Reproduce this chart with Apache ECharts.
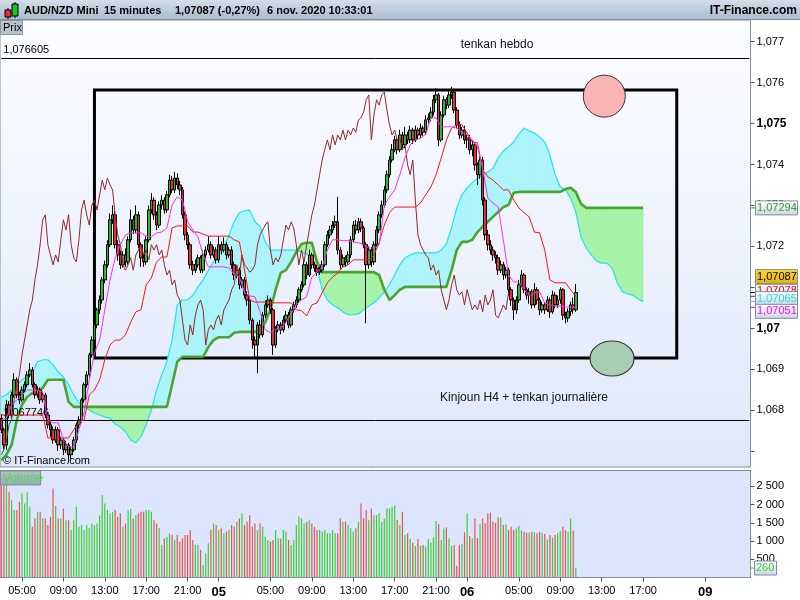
<!DOCTYPE html>
<html><head><meta charset="utf-8">
<script src="https://cdn.jsdelivr.net/npm/echarts@6/dist/echarts.min.js"></script>
<style>html,body{margin:0;padding:0;background:#fff;}#c{width:800px;height:600px;}</style>
</head><body><div id="c"></div>
<script>
// ---------- time axis ----------
const sessions = [
  {start: [2020, 11, 4, 3, 0], count: 272},
  {start: [2020, 11, 9, 0, 0], count: 18}
];
const tickTimes = ['11-04 05:00','11-04 09:00','11-04 13:00','11-04 17:00','11-04 21:00','11-05 00:00','11-05 05:00','11-05 09:00','11-05 13:00','11-05 17:00','11-05 21:00','11-06 00:00','11-06 05:00','11-06 09:00','11-06 13:00','11-06 17:00','11-09 00:00'];
const tickLabels = ['05:00','09:00','13:00','17:00','21:00','05','05:00','09:00','13:00','17:00','21:00','06','05:00','09:00','13:00','17:00','09'];

// ---------- 15-min candles [open, close, low, high] ----------
const candles = [
[1.06780,1.06752,1.06744,1.06790],[1.06752,1.06715,1.06705,1.06757],[1.06715,1.06813,1.06703,1.06825],[1.06813,1.06788,1.06780,1.06822],[1.06788,1.06837,1.06782,1.06845],
[1.06837,1.06874,1.06830,1.06890],[1.06874,1.06837,1.06829,1.06880],[1.06837,1.06825,1.06815,1.06845],[1.06825,1.06849,1.06820,1.06858],[1.06849,1.06862,1.06842,1.06870],
[1.06862,1.06886,1.06855,1.06895],[1.06886,1.06898,1.06880,1.06915],[1.06898,1.06862,1.06855,1.06905],[1.06862,1.06837,1.06828,1.06868],[1.06837,1.06849,1.06830,1.06858],
[1.06849,1.06825,1.06815,1.06855],[1.06825,1.06837,1.06818,1.06845],[1.06837,1.06788,1.06780,1.06842],[1.06788,1.06764,1.06755,1.06795],[1.06764,1.06752,1.06735,1.06770],
[1.06752,1.06727,1.06718,1.06760],[1.06727,1.06752,1.06720,1.06760],[1.06752,1.06715,1.06700,1.06758],[1.06715,1.06727,1.06705,1.06735],[1.06727,1.06703,1.06690,1.06732],
[1.06703,1.06715,1.06695,1.06725],[1.06715,1.06691,1.06672,1.06720],[1.06691,1.06703,1.06680,1.06710],[1.06703,1.06727,1.06698,1.06735],[1.06727,1.06764,1.06720,1.06770],
[1.06764,1.06776,1.06755,1.06785],[1.06776,1.06825,1.06770,1.06830],[1.06825,1.06862,1.06818,1.06868],[1.06862,1.06886,1.06855,1.06895],[1.06886,1.06935,1.06880,1.06940],
[1.06935,1.06971,1.06928,1.06980],[1.06971,1.07008,1.06965,1.07015],[1.07008,1.07045,1.07000,1.07050],[1.07045,1.07069,1.07035,1.07080],[1.07069,1.07118,1.07060,1.07125],
[1.07118,1.07155,1.07110,1.07165],[1.07155,1.07204,1.07148,1.07215],[1.07204,1.07265,1.07198,1.07280],[1.07265,1.07277,1.07255,1.07300],[1.07277,1.07204,1.07195,1.07285],
[1.07204,1.07179,1.07165,1.07215],[1.07179,1.07155,1.07145,1.07190],[1.07155,1.07179,1.07148,1.07188],[1.07179,1.07162,1.07150,1.07195],[1.07162,1.07216,1.07155,1.07225],
[1.07216,1.07265,1.07210,1.07290],[1.07265,1.07240,1.07230,1.07275],[1.07240,1.07277,1.07232,1.07300],[1.07277,1.07204,1.07195,1.07285],[1.07204,1.07172,1.07150,1.07210],
[1.07172,1.07162,1.07150,1.07180],[1.07162,1.07216,1.07155,1.07225],[1.07216,1.07289,1.07210,1.07300],[1.07289,1.07313,1.07280,1.07330],[1.07313,1.07277,1.07265,1.07320],
[1.07277,1.07252,1.07240,1.07285],[1.07252,1.07301,1.07245,1.07310],[1.07301,1.07313,1.07290,1.07325],[1.07313,1.07289,1.07280,1.07320],[1.07289,1.07326,1.07282,1.07335],
[1.07326,1.07362,1.07320,1.07375],[1.07362,1.07338,1.07330,1.07372],[1.07338,1.07367,1.07330,1.07382],[1.07367,1.07350,1.07340,1.07378],[1.07350,1.07338,1.07325,1.07360],
[1.07338,1.07277,1.07268,1.07345],[1.07277,1.07228,1.07215,1.07285],[1.07228,1.07204,1.07192,1.07235],[1.07204,1.07155,1.07145,1.07210],[1.07155,1.07142,1.07130,1.07165],
[1.07142,1.07155,1.07135,1.07168],[1.07155,1.07172,1.07148,1.07180],[1.07172,1.07142,1.07135,1.07178],[1.07142,1.07179,1.07135,1.07190],[1.07179,1.07191,1.07170,1.07200],
[1.07191,1.07204,1.07185,1.07225],[1.07204,1.07179,1.07170,1.07212],[1.07179,1.07191,1.07172,1.07200],[1.07191,1.07167,1.07158,1.07198],[1.07167,1.07204,1.07160,1.07225],
[1.07204,1.07191,1.07180,1.07212],[1.07191,1.07204,1.07185,1.07222],[1.07204,1.07179,1.07168,1.07210],[1.07179,1.07191,1.07172,1.07198],[1.07191,1.07155,1.07145,1.07200],
[1.07155,1.07130,1.07118,1.07162],[1.07130,1.07142,1.07122,1.07150],[1.07142,1.07106,1.07095,1.07148],[1.07106,1.07118,1.07098,1.07125],[1.07118,1.07081,1.07072,1.07125],
[1.07081,1.07069,1.07055,1.07090],[1.07069,1.07020,1.07010,1.07075],[1.07020,1.06971,1.06950,1.07025],[1.06971,1.06959,1.06930,1.06980],[1.06959,1.07008,1.06890,1.07015],
[1.07008,1.06984,1.06975,1.07020],[1.06984,1.07032,1.06978,1.07040],[1.07032,1.07057,1.07025,1.07068],[1.07057,1.07069,1.07050,1.07080],[1.07069,1.07045,1.07035,1.07075],
[1.07045,1.06959,1.06935,1.07050],[1.06959,1.06996,1.06952,1.07005],[1.06996,1.07008,1.06990,1.07018],[1.07008,1.06996,1.06985,1.07015],[1.06996,1.07020,1.06990,1.07030],
[1.07020,1.07032,1.07012,1.07042],[1.07032,1.07008,1.07000,1.07040],[1.07008,1.07045,1.07002,1.07052],[1.07045,1.07057,1.07038,1.07065],[1.07057,1.07069,1.07050,1.07078],
[1.07069,1.07094,1.07062,1.07100],[1.07094,1.07106,1.07088,1.07115],[1.07106,1.07155,1.07100,1.07165],[1.07155,1.07130,1.07120,1.07162],[1.07130,1.07179,1.07125,1.07192],
[1.07179,1.07155,1.07145,1.07185],[1.07155,1.07147,1.07138,1.07162],[1.07147,1.07137,1.07128,1.07155],[1.07137,1.07142,1.07130,1.07150],[1.07142,1.07155,1.07135,1.07165],
[1.07155,1.07204,1.07150,1.07212],[1.07204,1.07228,1.07198,1.07238],[1.07228,1.07240,1.07220,1.07250],[1.07240,1.07252,1.07232,1.07262],[1.07252,1.07260,1.07245,1.07275],
[1.07260,1.07191,1.07180,1.07321],[1.07191,1.07155,1.07145,1.07198],[1.07155,1.07172,1.07148,1.07180],[1.07172,1.07162,1.07150,1.07178],[1.07162,1.07179,1.07155,1.07188],
[1.07179,1.07216,1.07172,1.07225],[1.07216,1.07252,1.07210,1.07262],[1.07252,1.07240,1.07230,1.07265],[1.07240,1.07260,1.07232,1.07270],[1.07260,1.07245,1.07235,1.07268],
[1.07245,1.07204,1.07195,1.07250],[1.07204,1.07155,1.07012,1.07210],[1.07155,1.07191,1.07145,1.07200],[1.07191,1.07162,1.07150,1.07198],[1.07162,1.07204,1.07155,1.07212],
[1.07204,1.07240,1.07198,1.07250],[1.07240,1.07277,1.07232,1.07285],[1.07277,1.07301,1.07270,1.07312],[1.07301,1.07338,1.07295,1.07348],[1.07338,1.07375,1.07330,1.07385],
[1.07375,1.07411,1.07368,1.07420],[1.07411,1.07436,1.07405,1.07450],[1.07436,1.07460,1.07430,1.07470],[1.07460,1.07436,1.07425,1.07465],[1.07436,1.07472,1.07430,1.07485],
[1.07472,1.07448,1.07440,1.07480],[1.07448,1.07472,1.07440,1.07492],[1.07472,1.07460,1.07450,1.07480],[1.07460,1.07484,1.07452,1.07495],[1.07484,1.07460,1.07450,1.07490],
[1.07460,1.07484,1.07455,1.07495],[1.07484,1.07472,1.07462,1.07490],[1.07472,1.07489,1.07465,1.07500],[1.07489,1.07479,1.07470,1.07495],[1.07479,1.07509,1.07472,1.07520],
[1.07509,1.07514,1.07500,1.07525],[1.07514,1.07528,1.07505,1.07540],[1.07528,1.07558,1.07520,1.07570],[1.07558,1.07570,1.07550,1.07587],[1.07570,1.07460,1.07445,1.07575],
[1.07460,1.07521,1.07455,1.07530],[1.07521,1.07558,1.07515,1.07568],[1.07558,1.07545,1.07535,1.07565],[1.07545,1.07570,1.07538,1.07582],[1.07570,1.07577,1.07560,1.07590],
[1.07577,1.07533,1.07525,1.07585],[1.07533,1.07497,1.07488,1.07540],[1.07497,1.07472,1.07462,1.07505],[1.07472,1.07484,1.07465,1.07492],[1.07484,1.07460,1.07450,1.07495],
[1.07460,1.07465,1.07440,1.07475],[1.07465,1.07436,1.07425,1.07472],[1.07436,1.07448,1.07420,1.07460],[1.07448,1.07399,1.07385,1.07455],[1.07399,1.07375,1.07350,1.07405],
[1.07375,1.07411,1.07365,1.07420],[1.07411,1.07313,1.07300,1.07418],[1.07313,1.07228,1.07215,1.07320],[1.07228,1.07204,1.07190,1.07240],[1.07204,1.07191,1.07180,1.07215],
[1.07191,1.07179,1.07165,1.07200],[1.07179,1.07172,1.07158,1.07188],[1.07172,1.07142,1.07130,1.07180],[1.07142,1.07155,1.07135,1.07165],[1.07155,1.07130,1.07118,1.07162],
[1.07130,1.07142,1.07122,1.07150],[1.07142,1.07094,1.07080,1.07148],[1.07094,1.07069,1.07055,1.07100],[1.07069,1.07045,1.07020,1.07075],[1.07045,1.07069,1.07035,1.07078],
[1.07069,1.07106,1.07062,1.07118],[1.07106,1.07130,1.07100,1.07142],[1.07130,1.07094,1.07085,1.07135],[1.07094,1.07081,1.07070,1.07100],[1.07081,1.07089,1.07060,1.07098],
[1.07089,1.07057,1.07048,1.07095],[1.07057,1.07094,1.07050,1.07110],[1.07094,1.07069,1.07058,1.07100],[1.07069,1.07045,1.07032,1.07075],[1.07045,1.07057,1.07038,1.07065],
[1.07057,1.07045,1.07035,1.07062],[1.07045,1.07069,1.07040,1.07078],[1.07069,1.07040,1.07025,1.07075],[1.07040,1.07081,1.07035,1.07092],[1.07081,1.07057,1.07048,1.07088],
[1.07057,1.07069,1.07050,1.07080],[1.07069,1.07094,1.07060,1.07100],[1.07094,1.07032,1.07020,1.07098],[1.07032,1.07025,1.07012,1.07040],[1.07025,1.07040,1.07015,1.07048],
[1.07040,1.07057,1.07030,1.07065],[1.07057,1.07045,1.07035,1.07075],[1.07045,1.07087,1.07040,1.07108]
];

// ---------- volume per candle ----------
const volumes = [2670,2575,2530,2350,2120,1850,1850,2075,2300,2030,
2350,1940,1390,1620,1800,1800,1620,1620,1440,1665,
2440,1960,1620,1620,1890,1570,1570,1300,1570,1940,
1390,1440,1300,1440,1350,1480,1440,1480,1710,2260,
2030,1850,1760,1800,1850,1665,1760,1390,1480,1850,
1875,1620,1710,1760,1800,1800,1850,1850,1800,1570,
1480,1350,890,1070,1120,1210,1165,1030,1165,980,
1070,1165,1165,1300,1030,890,890,760,340,660,
940,1300,1480,1440,1300,1350,1210,1260,1300,1440,
1390,1530,1620,1760,1440,1530,1710,1390,1480,1300,
1480,1390,1120,1030,980,1030,1300,1070,1070,1300,
1260,1030,890,1030,1440,1665,1620,1480,1530,1570,
1480,1390,1300,1300,1260,1300,1210,1210,1300,1210,
1210,1620,1530,1530,1440,1350,1260,1350,1530,2030,
1620,1850,1570,1890,1710,1710,1760,1530,1620,1890,
1890,1940,1980,1575,1440,
1800,1165,1210,1055,955,865,1055,865,890,845,
1055,955,1100,1545,1465,1030,1345,1375,1075,865,
890,320,890,920,1240,1755,1140,1075,1620,1075,
1465,1620,1485,1755,1775,1530,1500,1645,1645,1440,
1455,1300,1390,1300,1345,1410,1285,1255,1230,1230,
1255,1240,1210,1255,1230,1190,1045,1165,1100,1165,
1210,1275,1390,1300,1255,1620,1285,260];

// ---------- Ichimoku lines, one value every 2 candles (30 min) ----------
const tenkan = [1.06776,1.06780,1.06813,1.06825,1.06837,1.06849,1.06849,1.06849,1.06844,1.06776,
1.06769,1.06769,1.06727,1.06710,1.06710,1.06752,1.06793,1.06874,1.06940,1.06971,
1.07045,1.07118,1.07171,1.07204,1.07228,1.07233,1.07233,1.07233,1.07225,1.07223,
1.07233,1.07235,1.07245,1.07301,1.07321,1.07313,1.07260,1.07240,1.07223,1.07179,
1.07150,1.07150,1.07150,1.07150,1.07147,1.07132,1.07125,1.07087,1.07079,1.07077,
1.07040,1.06996,1.06989,1.06998,1.06998,1.07015,1.07035,1.07057,1.07069,1.07077,
1.07125,1.07137,1.07150,1.07191,1.07216,1.07216,1.07214,1.07214,1.07211,1.07209,
1.07204,1.07196,1.07196,1.07204,1.07301,1.07321,1.07338,1.07375,1.07416,1.07448,
1.07460,1.07464,1.07474,1.07514,1.07514,1.07492,1.07492,1.07492,1.07489,1.07479,
1.07472,1.07460,1.07443,1.07391,1.07318,1.07306,1.07296,1.07216,1.07130,1.07113,
1.07113,1.07094,1.07079,1.07087,1.07089,1.07062,1.07057,1.07054,1.07054,1.07052,
1.07052,1.07051];
const kijun = [1.06788,1.06788,1.06788,1.06788,1.06788,1.06788,1.06788,1.06788,1.06788,1.06732,
1.06732,1.06732,1.06732,1.06732,1.06752,1.06771,1.06776,1.06837,1.06849,1.06874,
1.06923,1.06959,1.06971,1.06971,1.06984,1.07015,1.07040,1.07045,1.07106,1.07123,
1.07162,1.07174,1.07174,1.07245,1.07250,1.07250,1.07250,1.07235,1.07235,1.07230,
1.07225,1.07225,1.07225,1.07225,1.07225,1.07216,1.07211,1.07142,1.07069,1.07064,
1.07064,1.07064,1.07062,1.07062,1.07062,1.07062,1.07062,1.07045,1.07043,1.07030,
1.07057,1.07062,1.07087,1.07111,1.07125,1.07135,1.07150,1.07155,1.07167,1.07167,
1.07167,1.07167,1.07179,1.07209,1.07252,1.07282,1.07296,1.07296,1.07296,1.07296,
1.07296,1.07306,1.07326,1.07345,1.07375,1.07416,1.07460,1.07489,1.07497,1.07497,
1.07477,1.07455,1.07453,1.07387,1.07370,1.07362,1.07350,1.07338,1.07338,1.07313,
1.07294,1.07282,1.07272,1.07235,1.07233,1.07191,1.07118,1.07111,1.07111,1.07111,
1.07094,1.07078];
const senkouA = [1.06678,1.06691,1.06715,1.06776,1.06813,1.06832,1.06842,1.06847,1.06854,1.06874,
1.06874,1.06874,1.06874,1.06820,1.06808,1.06808,1.06808,1.06808,1.06808,1.06808,
1.06808,1.06808,1.06808,1.06808,1.06808,1.06808,1.06808,1.06808,1.06808,1.06808,
1.06808,1.06808,1.06808,1.06862,1.06918,1.06930,1.06930,1.06930,1.06930,1.06930,
1.06954,1.06971,1.06978,1.06978,1.06978,1.06989,1.06991,1.06991,1.06991,1.06991,
1.06991,1.07015,1.07045,1.07094,1.07135,1.07142,1.07162,1.07186,1.07206,1.07209,
1.07209,1.07162,1.07137,1.07137,1.07137,1.07137,1.07137,1.07137,1.07137,1.07137,
1.07137,1.07137,1.07137,1.07130,1.07094,1.07069,1.07081,1.07094,1.07101,1.07101,
1.07101,1.07101,1.07101,1.07101,1.07101,1.07101,1.07101,1.07142,1.07191,1.07211,
1.07211,1.07216,1.07235,1.07248,1.07260,1.07272,1.07284,1.07296,1.07301,1.07331,
1.07333,1.07333,1.07333,1.07333,1.07333,1.07333,1.07333,1.07333,1.07333,1.07340,
1.07343,1.07333,1.07304,1.07294,1.07294,1.07294,1.07294,1.07294,1.07294,1.07294,
1.07294,1.07294,1.07294,1.07294,1.07294];
const senkouB = [1.06832,1.06837,1.06849,1.06862,1.06874,1.06881,1.06891,1.06918,1.06923,1.06923,
1.06911,1.06893,1.06881,1.06862,1.06837,1.06818,1.06810,1.06800,1.06793,1.06788,
1.06783,1.06780,1.06766,1.06759,1.06747,1.06727,1.06720,1.06735,1.06764,1.06800,
1.06849,1.06886,1.06918,1.06971,1.07057,1.07069,1.07069,1.07081,1.07101,1.07118,
1.07142,1.07162,1.07179,1.07199,1.07228,1.07260,1.07282,1.07287,1.07289,1.07260,
1.07248,1.07211,1.07191,1.07191,1.07191,1.07191,1.07191,1.07191,1.07186,1.07181,
1.07172,1.07147,1.07094,1.07069,1.07057,1.07050,1.07040,1.07033,1.07033,1.07035,
1.07045,1.07054,1.07062,1.07074,1.07089,1.07106,1.07130,1.07155,1.07172,1.07179,
1.07184,1.07184,1.07184,1.07184,1.07184,1.07191,1.07206,1.07245,1.07294,1.07326,
1.07343,1.07355,1.07367,1.07375,1.07382,1.07391,1.07416,1.07433,1.07443,1.07455,
1.07474,1.07489,1.07482,1.07477,1.07467,1.07455,1.07423,1.07375,1.07345,1.07338,
1.07318,1.07284,1.07223,1.07196,1.07179,1.07164,1.07159,1.07159,1.07147,1.07111,
1.07089,1.07084,1.07081,1.07072,1.07065];
const chikouShift = 26;

// ---------- annotations ----------
const levelHebdo = 1.076605;
const levelH4 = 1.067746;
const boxCorners = [['11-04 12:00', 1.07582], ['11-06 20:15', 1.06927]];
const redCircle = ['11-06 13:15', 1.07567];
const greenEllipse = ['11-06 14:00', 1.06926];

// ---------- build ----------
const FONT = '"Liberation Sans", Arial, Helvetica, sans-serif';
const pad = n => String(n).padStart(2, '0');
const categories = [];
sessions.forEach(s => {
  const t0 = Date.UTC(s.start[0], s.start[1] - 1, s.start[2], s.start[3], s.start[4]);
  for (let i = 0; i < s.count; i++) {
    const d = new Date(t0 + i * 900000);
    categories.push(pad(d.getUTCMonth() + 1) + '-' + pad(d.getUTCDate()) + ' ' + pad(d.getUTCHours()) + ':' + pad(d.getUTCMinutes()));
  }
});
const tickMap = {};
tickTimes.forEach((t, i) => { tickMap[t] = tickLabels[i]; });
const tickFn = (idx, val) => tickMap[val] !== undefined;

const half = arr => arr.map((v, k) => [2 * k, v]);
const chikou = candles.slice(chikouShift).map((c, i) => [i, c[1]]);
const UP = '#3fcd3a', DOWN = '#e85454';
const volData = volumes.map((v, i) => ({value: v, itemStyle: {color: candles[i][1] >= candles[i][0] ? UP : DOWN}}));

const GREEN_FILL = '#a6f2a6', CYAN_FILL = '#acf3fa';
function renderCloud(params, api) {
  const k = params.dataIndex;
  if (k >= senkouA.length - 1) return null;
  const a0 = api.coord([2 * k, senkouA[k]]), a1 = api.coord([2 * k + 2, senkouA[k + 1]]);
  const b0 = api.coord([2 * k, senkouB[k]]), b1 = api.coord([2 * k + 2, senkouB[k + 1]]);
  const d0 = b0[1] - a0[1], d1 = b1[1] - a1[1];
  const poly = (pts, up) => ({type: 'polygon', shape: {points: pts}, style: {fill: up ? GREEN_FILL : CYAN_FILL, stroke: up ? GREEN_FILL : CYAN_FILL, lineWidth: 0.6}});
  const children = [];
  if (d0 * d1 < 0) {
    const t = d0 / (d0 - d1);
    const m = [a0[0] + t * (a1[0] - a0[0]), a0[1] + t * (a1[1] - a0[1])];
    children.push(poly([a0, m, b0], d0 > 0));
    children.push(poly([m, a1, b1], d1 > 0));
  } else {
    children.push(poly([a0, a1, b1, b0], (d0 + d1) > 0));
  }
  return {type: 'group', children: children};
}

const priceFmt = v => {
  const r = Math.round(v * 1000);
  if (Math.abs(v * 1000 - r) > 1e-6 || r === 1067) return '';
  const s = (r / 1000).toString().replace('.', ',');
  return r % 5 === 0 ? '{b|' + s + '}' : s;
};
const volFmt = v => {
  if (v <= 0 || v % 500 !== 0) return '';
  return v >= 1000 ? Math.floor(v / 1000) + ' ' + String(v % 1000).padStart(3, '0') : String(v);
};
const levelLabel = v => String(v).replace('.', ',');
const lastSlot = categories.length - 1;

const chart = echarts.init(document.getElementById('c'), null, {width: 800, height: 600});
const option = {
  animation: false,
  backgroundColor: '#ffffff',
  textStyle: {fontFamily: FONT},
  grid: [
    {left: 0, top: 20, width: 750.5, height: 447, show: true, borderColor: '#7f8fa0', borderWidth: 1, outerBoundsMode: 'none',
     backgroundColor: {type: 'linear', x: 0, y: 0, x2: 0, y2: 1, colorStops: [{offset: 0, color: '#fcfdff'}, {offset: 1, color: '#dfe7fb'}]}},
    {left: 0, top: 470.5, width: 750.5, height: 107, show: true, borderColor: '#7f8fa0', borderWidth: 1, outerBoundsMode: 'none', backgroundColor: '#dbe5fc'}
  ],
  xAxis: [
    {type: 'category', gridIndex: 0, data: categories, boundaryGap: true, show: false},
    {type: 'category', gridIndex: 1, data: categories, boundaryGap: true,
     axisLine: {show: true, lineStyle: {color: '#7f8fa0'}},
     axisTick: {show: true, interval: tickFn, alignWithLabel: true, length: 4, lineStyle: {color: '#555'}},
     axisLabel: {interval: tickFn, color: '#000', fontSize: 11, margin: 8, fontFamily: FONT,
       formatter: v => { const s = tickMap[v]; if (!s) return ''; return s.length === 2 ? '{d|' + s + '}' : s; },
       rich: {d: {fontWeight: 'bold', fontSize: 13, color: '#000', fontFamily: FONT}}},
     splitLine: {show: false}}
  ],
  yAxis: [
    {type: 'value', gridIndex: 0, position: 'right', min: 1.06661, max: 1.07753, splitNumber: 11,
     axisLine: {show: true, lineStyle: {color: '#7f8fa0'}},
     axisTick: {show: true, length: 4, lineStyle: {color: '#555'}},
     axisLabel: {color: '#000', fontSize: 11, margin: 6, fontFamily: FONT, showMinLabel: false, showMaxLabel: false, formatter: priceFmt,
       rich: {b: {fontWeight: 'bold', fontSize: 12, color: '#000', fontFamily: FONT}}},
     splitLine: {show: false}},
    {type: 'value', gridIndex: 1, position: 'right', min: 0, max: 2934, splitNumber: 6,
     axisLine: {show: true, lineStyle: {color: '#7f8fa0'}},
     axisTick: {show: true, length: 4, lineStyle: {color: '#555'}},
     axisLabel: {color: '#000', fontSize: 11, margin: 6, fontFamily: FONT, showMinLabel: false, showMaxLabel: false, formatter: volFmt},
     splitLine: {show: false}}
  ],
  series: [
    {type: 'custom', name: 'cloud', xAxisIndex: 0, yAxisIndex: 0, z: 1, clip: true,
     data: senkouA.slice(0, -1).map((v, k) => [2 * k, v]), encode: {x: 0, y: 1}, renderItem: renderCloud, silent: true},
    {type: 'line', name: 'senkouB', data: half(senkouB), z: 2, showSymbol: false, symbol: 'none', lineStyle: {color: '#22e3ef', width: 1.2}, silent: true},
    {type: 'line', name: 'senkouA', data: half(senkouA), z: 3, showSymbol: false, symbol: 'none', lineStyle: {color: '#3f9a1b', width: 2.6, opacity: 0.9}, silent: true},
    {type: 'candlestick', name: 'AUD/NZD', data: candles, z: 4, barWidth: 3,
     itemStyle: {color: '#1fc02a', color0: '#f0283a', borderColor: '#000', borderColor0: '#000', borderColorDoji: '#000', borderWidth: 1}},
    {type: 'line', name: 'chikou', data: chikou, z: 5, showSymbol: false, symbol: 'none', lineStyle: {color: '#8e2a2a', width: 1}, silent: true,
     markLine: {silent: true, precision: 6, symbol: ['none', 'none'], lineStyle: {color: '#000', width: 1, type: 'solid'},
       label: {position: 'insideStartTop', color: '#000', fontSize: 11, distance: 2, fontFamily: FONT},
       data: [
         [{coord: [0, levelHebdo], label: {formatter: levelLabel(levelHebdo)}}, {coord: [lastSlot, levelHebdo]}],
         [{coord: [0, levelH4], label: {formatter: levelLabel(levelH4)}}, {coord: [lastSlot, levelH4]}]
       ]}},
    {type: 'line', name: 'kijun', data: half(kijun), z: 5, showSymbol: false, symbol: 'none', lineStyle: {color: '#ff1414', width: 1}, silent: true},
    {type: 'line', name: 'tenkan', data: half(tenkan), z: 6, showSymbol: false, symbol: 'none', lineStyle: {color: '#ff2cff', width: 1}, silent: true,
     markArea: {silent: true, itemStyle: {color: 'rgba(0,0,0,0)', borderColor: '#000', borderWidth: 3},
       data: [[{coord: boxCorners[0]}, {coord: boxCorners[1]}]]},
     markPoint: {silent: true, label: {show: false},
       data: [{coord: redCircle, symbol: 'circle', symbolSize: [42, 42], itemStyle: {color: '#fbb4b4', borderColor: '#333', borderWidth: 1}},
              {coord: greenEllipse, symbol: 'circle', symbolSize: [44, 35], itemStyle: {color: '#a9cfb2', borderColor: '#333', borderWidth: 1}}]}},
    {type: 'bar', name: 'Volume', xAxisIndex: 1, yAxisIndex: 1, data: volData, barWidth: 1.2, silent: true}
  ]
};
chart.setOption(option);

// ---------- frame, header and value tags ----------
const lin = (c0, c1) => ({type: 'linear', x: 0, y: 0, x2: 0, y2: 1, colorStops: [{offset: 0, color: c0}, {offset: 1, color: c1}]});
const g = [];
g.push({type: 'rect', z: 50, shape: {x: 0, y: 0, width: 800, height: 20}, style: {fill: lin('#d3dee9', '#a7bacc')}});
g.push({type: 'line', z: 51, shape: {x1: 0, y1: 19.5, x2: 800, y2: 19.5}, style: {stroke: '#7f8fa0', lineWidth: 1}});
g.push({type: 'line', z: 51, shape: {x1: 8, y1: 8, x2: 8, y2: 19}, style: {stroke: '#000', lineWidth: 1}});
g.push({type: 'rect', z: 52, shape: {x: 5, y: 10, width: 6, height: 7}, style: {fill: '#f0283a', stroke: '#000', lineWidth: 1}});
g.push({type: 'line', z: 51, shape: {x1: 15, y1: 2, x2: 15, y2: 18}, style: {stroke: '#000', lineWidth: 1}});
g.push({type: 'rect', z: 52, shape: {x: 12, y: 4, width: 6, height: 12}, style: {fill: '#1fbf2a', stroke: '#000', lineWidth: 1}});
[['AUD/NZD Mini', 24], ['15 minutes', 104], ['1,07087 (-0,27%)', 175], ['6 nov. 2020 10:33:01', 267]].forEach(t => {
  g.push({type: 'text', z: 52, x: t[1], y: 11, style: {text: t[0], fill: '#000', font: 'bold 11px ' + FONT, align: 'left', verticalAlign: 'middle'}});
});
g.push({type: 'text', z: 52, x: 797, y: 11, style: {text: 'IT-Finance.com', fill: '#000', font: 'bold 12px ' + FONT, align: 'right', verticalAlign: 'middle'}});
g.push({type: 'rect', z: 52, shape: {x: 0.5, y: 20.5, width: 22, height: 14}, style: {fill: '#b6c3cf', stroke: '#8797a7', lineWidth: 1}});
g.push({type: 'text', z: 53, x: 3, y: 28, style: {text: 'Prix', fill: '#000', font: '11px ' + FONT, verticalAlign: 'middle'}});
g.push({type: 'rect', z: 52, shape: {x: 0.5, y: 471, width: 40, height: 14}, style: {fill: lin('#b0c4c6', '#93abb0'), stroke: '#7b9397', lineWidth: 1}});
g.push({type: 'text', z: 53, x: 3, y: 478.5, style: {text: 'Volume', fill: '#58d458', font: '12px ' + FONT, verticalAlign: 'middle'}});
g.push({type: 'text', z: 1, x: 3, y: 461, style: {text: '\u00a9 IT-Finance.com', fill: '#000', font: '11px ' + FONT, verticalAlign: 'middle'}});
g.push({type: 'text', z: 20, x: 497, y: 45, style: {text: 'tenkan hebdo', fill: '#111', font: '12px ' + FONT, align: 'center', verticalAlign: 'middle'}});
g.push({type: 'text', z: 20, x: 524, y: 398, style: {text: 'Kinjoun H4 + tenkan journali\u00e8re', fill: '#111', font: '12px ' + FONT, align: 'center', verticalAlign: 'middle'}});

const last = a => a[a.length - 1];
const sideTags = [
  {value: last(senkouA), color: '#34a02a', fill: 'box', dy: 0},
  {value: last(candles)[1], color: '#000', fill: 'gold', dy: -16},
  {value: last(kijun), color: '#ff0000', fill: 'box', dy: -5},
  {value: last(senkouB), color: '#1fd9e8', fill: 'box', dy: -3},
  {value: last(tenkan), color: '#ff00ff', fill: 'box', dy: 4}
];
sideTags.forEach((t, i) => {
  const y = chart.convertToPixel({yAxisIndex: 0}, t.value);
  g.push({type: 'line', z: 60 + i, shape: {x1: 750.5, y1: y, x2: 755, y2: y}, style: {stroke: t.color, lineWidth: 1}});
  const cy = y + t.dy;
  g.push({type: 'rect', z: 60 + i, shape: {x: 755.5, y: cy - 7, width: 42, height: 14},
    style: {fill: t.fill === 'gold' ? lin('#ffd83a', '#e4b000') : lin('#ffffff', '#c9d5e0'), stroke: '#7f8fa0', lineWidth: 1}});
  g.push({type: 'text', z: 60 + i, x: 757, y: cy, style: {text: t.value.toFixed(5).replace('.', ','), fill: t.color, font: '11px ' + FONT, verticalAlign: 'middle'}});
});
const vy = chart.convertToPixel({yAxisIndex: 1}, last(volumes));
g.push({type: 'line', z: 70, shape: {x1: 750.5, y1: vy, x2: 755, y2: vy}, style: {stroke: '#3fcd3a', lineWidth: 1}});
g.push({type: 'rect', z: 70, shape: {x: 754.5, y: vy - 7, width: 22, height: 14}, style: {fill: lin('#ffffff', '#c9d5e0'), stroke: '#7f8fa0', lineWidth: 1}});
g.push({type: 'text', z: 71, x: 756, y: vy, style: {text: String(last(volumes)), fill: '#3fcd3a', font: '11px ' + FONT, verticalAlign: 'middle'}});

chart.setOption({graphic: {elements: g}});
</script></body></html>
